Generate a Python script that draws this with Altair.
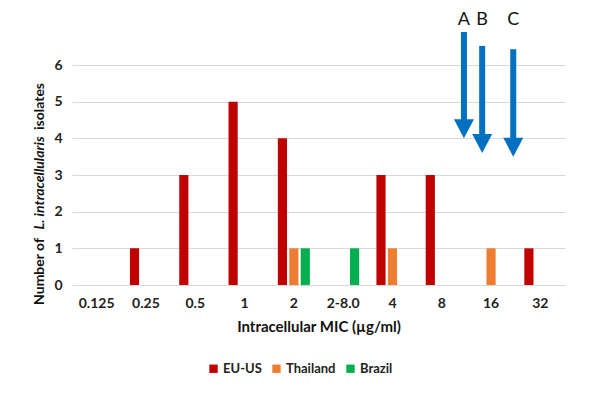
import altair as alt
import pandas as pd

categories = ["0.125", "0.25", "0.5", "1", "2", "2-8.0", "4", "8", "16", "32"]
series = ["EU-US", "Thailand", "Brazil"]
eu_us = [0, 1, 3, 5, 4, 0, 3, 3, 0, 1]
thailand = [0, 0, 0, 0, 1, 0, 1, 0, 1, 0]
brazil = [0, 0, 0, 0, 1, 1, 0, 0, 0, 0]
colors = ["#C00000", "#ED7D31", "#00B050"]

arrow_labels = ["A", "B", "C"]
arrow_pos = [7.95, 8.32, 8.95]      # in category-index units
arrow_top = [6.9, 6.52, 6.43]
arrow_tip = [4.0, 3.6, 3.5]
label_y = [7.22, 7.22, 7.22]

FONT = "Lato"

rows = []
for s, vals in zip(series, [eu_us, thailand, brazil]):
    for c, v in zip(categories, vals):
        rows.append({"MIC": c, "Series": s, "Count": v})
df = pd.DataFrame(rows)

arrows = pd.DataFrame({
    "label": arrow_labels,
    "x": arrow_pos,
    "top": arrow_top,
    "tip": arrow_tip,
    "base": [t + 0.45 for t in arrow_tip],
    "ly": label_y,
})

yscale = alt.Scale(domain=[0, 6], nice=False)

bars = alt.Chart(df).mark_bar().encode(
    x=alt.X("MIC:N", sort=categories,
            scale=alt.Scale(paddingInner=0.35, paddingOuter=0.175),
            axis=alt.Axis(title="Intracellular MIC (µg/ml)", labelAngle=0,
                          labelPadding=11, titlePadding=9, domain=False,
                          ticks=False, grid=False, titleFontSize=15)),
    xOffset=alt.XOffset("Series:N", sort=series,
                        scale=alt.Scale(domain=series, paddingInner=0.2)),
    y=alt.Y("Count:Q", scale=yscale,
            axis=alt.Axis(title=None, values=[0, 1, 2, 3, 4, 5, 6],
                          labelPadding=10, domain=False, ticks=False,
                          grid=True, gridColor="#D9D9D9", labelOverlap=False)),
    color=alt.Color("Series:N", sort=series,
                    scale=alt.Scale(domain=series, range=colors),
                    legend=alt.Legend(title=None, orient="none", direction="horizontal",
                                      legendX=135, legendY=297, symbolType="square",
                                      symbolSize=70, symbolStrokeWidth=0,
                                      labelFont=FONT, labelFontSize=13,
                                      labelFontWeight="bold", labelColor="#222222",
                                      columnPadding=8, labelOffset=3)),
)

xq = alt.Scale(domain=[0, 10], nice=False, zero=False)

shaft = alt.Chart(arrows).mark_rule(color="#0070C0", strokeWidth=6, strokeCap="butt").encode(
    x=alt.X("x:Q", scale=xq, axis=None),
    y=alt.Y("top:Q", scale=yscale, axis=None),
    y2="base:Q",
)

head = alt.Chart(arrows).mark_point(
    shape="M-1,-1.9L1,-1.9L0,0Z", filled=True, color="#0070C0", opacity=1, size=400
).encode(
    x=alt.X("x:Q", scale=xq, axis=None),
    y=alt.Y("tip:Q", scale=yscale, axis=None),
)

letters = alt.Chart(arrows).mark_text(
    font=FONT, fontSize=18, color="#111111", baseline="middle", align="center"
).encode(
    x=alt.X("x:Q", scale=xq, axis=None),
    y=alt.Y("ly:Q", scale=yscale, axis=None),
    text="label:N",
)

title_df = pd.DataFrame({"a": [0]})
t1 = alt.Chart(title_df).mark_text(
    font=FONT, fontSize=14, fontWeight="bold", angle=270, align="right",
    baseline="middle", color="#111111"
).encode(x=alt.value(-32), y=alt.value(173), text=alt.value("Number of"))
t2 = alt.Chart(title_df).mark_text(
    font=FONT, fontSize=14, fontWeight="bold", fontStyle="italic", angle=270,
    align="center", baseline="middle", color="#111111"
).encode(x=alt.value(-32), y=alt.value(118), text=alt.value("L. intracellularis"))
t3 = alt.Chart(title_df).mark_text(
    font=FONT, fontSize=14, fontWeight="bold", angle=270, align="left",
    baseline="middle", color="#111111"
).encode(x=alt.value(-32), y=alt.value(65), text=alt.value("isolates"))

chart = alt.layer(bars, shaft, head, letters, t1, t2, t3).resolve_scale(
    x="independent"
).resolve_axis(
    y="independent"
).properties(
    width=493, height=220,
    autosize=alt.AutoSizeParams(type="none"),
    padding={"left": 64, "top": 57, "right": 24, "bottom": 104},
).configure_view(stroke=None).configure_axis(
    labelFont=FONT, labelFontSize=14, labelFontWeight="bold", labelColor="#222222",
    titleFont=FONT, titleFontSize=14, titleFontWeight="bold", titleColor="#111111",
)

chart.save("out.html", embed_options={"renderer": "svg", "actions": False})
